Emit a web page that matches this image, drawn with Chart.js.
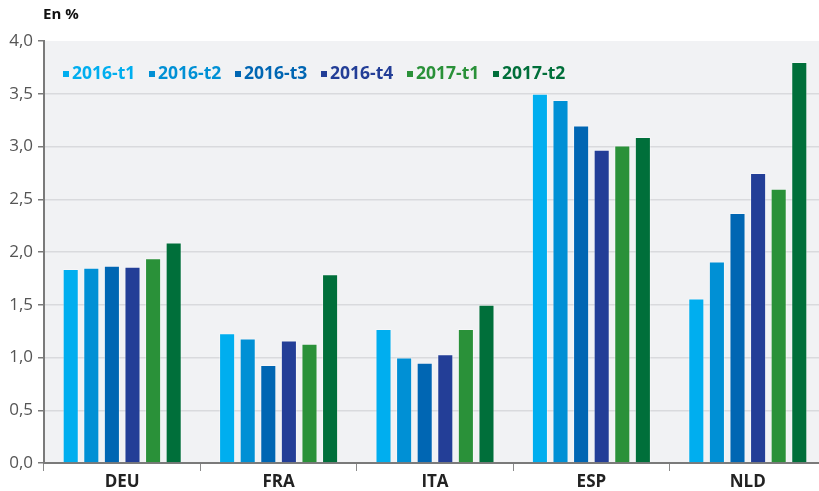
<!DOCTYPE html>
<html>
<head>
<meta charset="utf-8">
<script src="https://cdn.jsdelivr.net/npm/chart.js@4"></script>
<style>
  html, body { margin: 0; padding: 0; background: #fff; overflow: hidden; }
  #wrap { position: relative; width: 826px; height: 491px; }
</style>
</head>
<body>
<div id="wrap"><canvas id="chart" width="826" height="491"></canvas></div>
<script>
// data
const countries = ['DEU', 'FRA', 'ITA', 'ESP', 'NLD'];
const periods = ['2016-t1', '2016-t2', '2016-t3', '2016-t4', '2017-t1', '2017-t2'];
const colors = ['#00aeef', '#0090d5', '#0066b3', '#233e97', '#2a9139', '#006f3a'];
const t2016_1 = [1.84, 1.23, 1.27, 3.50, 1.56];
const t2016_2 = [1.85, 1.18, 1.00, 3.44, 1.91];
const t2016_3 = [1.87, 0.93, 0.95, 3.20, 2.37];
const t2016_4 = [1.86, 1.16, 1.03, 2.97, 2.75];
const t2017_1 = [1.94, 1.13, 1.27, 3.01, 2.60];
const t2017_2 = [2.09, 1.79, 1.50, 3.09, 3.80];
const yTicks = [0, 0.5, 1, 1.5, 2, 2.5, 3, 3.5, 4];

const series = [t2016_1, t2016_2, t2016_3, t2016_4, t2017_1, t2017_2];

// grey plot background
const plotBg = {
  id: 'plotBg',
  beforeDraw(chart) {
    const { ctx, chartArea: a } = chart;
    ctx.save();
    ctx.fillStyle = '#f1f2f4';
    ctx.fillRect(a.left, a.top, a.right - a.left, a.bottom - a.top);
    ctx.restore();
  }
};

// legend drawn inside the plot, coloured text
const innerLegend = {
  id: 'innerLegend',
  afterDraw(chart) {
    const ctx = chart.ctx;
    ctx.save();
    ctx.font = 'bold 17.5px "Open Sans"';
    ctx.textBaseline = 'alphabetic';
    let x = 63;
    chart.data.datasets.forEach(ds => {
      ctx.fillStyle = ds.backgroundColor;
      ctx.fillRect(x, 71, 6, 6);
      ctx.fillText(ds.label, x + 9, 79);
      x += 86;
    });
    // unit label
    ctx.fillStyle = '#111';
    ctx.font = 'bold 15px "Open Sans"';
    ctx.fillText('En %', 43, 19);
    ctx.restore();
  }
};

new Chart(document.getElementById('chart'), {
  type: 'bar',
  data: {
    labels: countries,
    datasets: periods.map((p, i) => ({
      label: p,
      data: series[i],
      backgroundColor: colors[i],
      borderColor: 'rgba(255,255,255,0.35)',
      borderWidth: 1,
      barPercentage: 0.78,
      categoryPercentage: 0.79
    }))
  },
  options: {
    responsive: false,
    animation: false,
    layout: { padding: { top: 41, right: 0, left: 0, bottom: 0 } },
    plugins: { legend: { display: false }, tooltip: { enabled: false } },
    scales: {
      x: {
        grid: { offset: true, drawOnChartArea: false, drawTicks: true, tickLength: 8, color: '#8a8a8a' },
        border: { color: '#7a7a7a', width: 2 },
        ticks: { color: '#222', font: { family: 'Open Sans', size: 17, weight: 'bold' }, padding: 1 },
        afterFit(s) { s.height = 28; }
      },
      y: {
        min: 0, max: 4,
        afterBuildTicks(s) { s.ticks = yTicks.map(v => ({ value: v })); },
        grid: {
          color: c => (c.tick && c.tick.value === 4 ? 'rgba(0,0,0,0)' : '#d9dadd'),
          lineWidth: 1.5, tickLength: 6, tickColor: '#7a7a7a'
        },
        border: { color: '#7a7a7a', width: 2 },
        ticks: {
          color: '#555',
          font: { family: 'Open Sans', size: 17 },
          padding: 5,
          callback: v => v.toFixed(1).replace('.', ',')
        },
        afterFit(s) { s.width = 44; }
      }
    }
  },
  plugins: [plotBg, innerLegend]
});
</script>
</body>
</html>
